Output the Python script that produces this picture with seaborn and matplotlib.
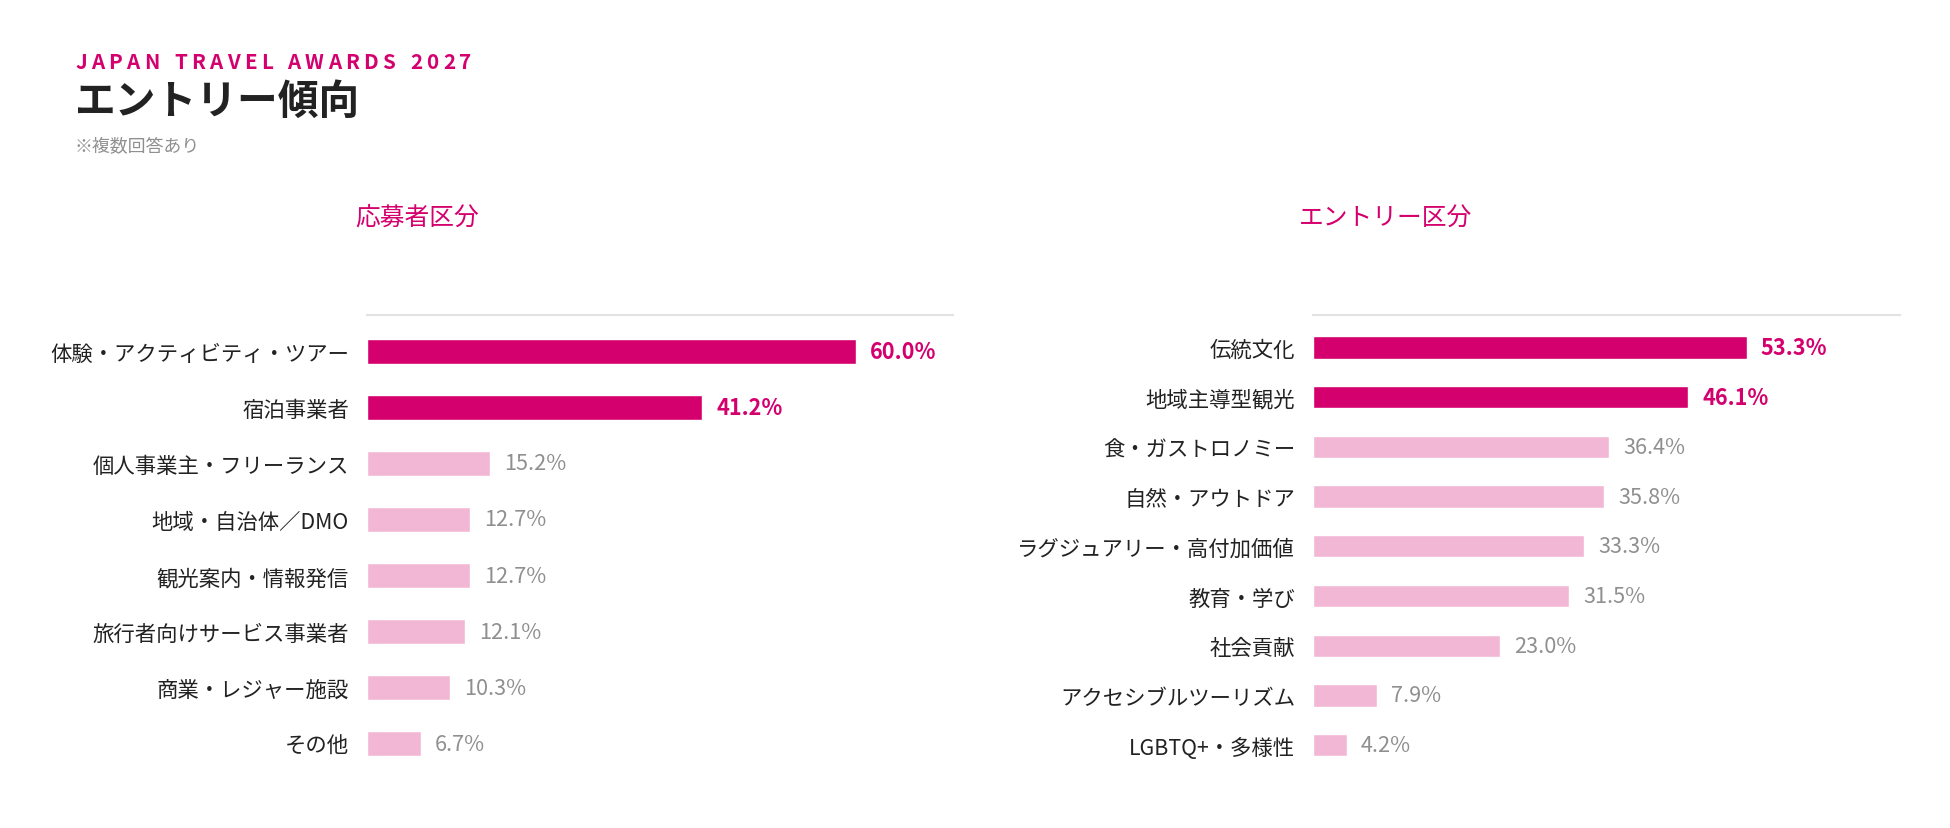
import matplotlib
matplotlib.use("Agg")
import matplotlib.pyplot as plt
import seaborn as sns
import pandas as pd

# data
applicant_cats = ["体験・アクティビティ・ツアー", "宿泊事業者", "個人事業主・フリーランス",
                  "地域・自治体／DMO", "観光案内・情報発信", "旅行者向けサービス事業者",
                  "商業・レジャー施設", "その他"]
applicant_vals = [60.0, 41.2, 15.2, 12.7, 12.7, 12.1, 10.3, 6.7]

entry_cats = ["伝統文化", "地域主導型観光", "食・ガストロノミー", "自然・アウトドア",
              "ラグジュアリー・高付加価値", "教育・学び", "社会貢献",
              "アクセシブルツーリズム", "LGBTQ+・多様性"]
entry_vals = [53.3, 46.1, 36.4, 35.8, 33.3, 31.5, 23.0, 7.9, 4.2]

header = "JAPAN TRAVEL AWARDS 2027"
title = "エントリー傾向"
note = "※複数回答あり"
panel_titles = ["応募者区分", "エントリー区分"]

DARK = "#d4006e"
LIGHT = "#f3b7d6"
GREY = "#8f8f8f"
INK = "#222222"

sns.set_style("white")
plt.rcParams["font.family"] = ["Noto Sans CJK JP", "DejaVu Sans"]

W, H = 1950, 829
fig = plt.figure(figsize=(W / 100, H / 100), dpi=100)
renderer = fig.canvas.get_renderer()

# header with letter spacing, drawn char by char
x = 75
for ch in header:
    t = fig.text(x / W, 0.925, ch, fontsize=14.8, fontweight="bold", color=DARK,
                 va="center", ha="left")
    w = t.get_window_extent(renderer).width if ch != " " else 6
    x += w + 4.3

fig.text(75 / W, 0.877, title, fontsize=29.3, fontweight="bold", color=INK, va="center")
fig.text(75 / W, 0.824, note, fontsize=12.9, color=GREY, va="center")

# (cats, vals, axes left px, axes bottom px, axes height px, title x px)
panels = [(applicant_cats, applicant_vals, 366.5, 48, 465, 417),
          (entry_cats, entry_vals, 1312.5, 50.5, 462.5, 1386)]
for i, (cats, vals, left, bottom, height, tx) in enumerate(panels):
    ax = fig.add_axes([left / W, bottom / H, 587 / W, height / H])
    df = pd.DataFrame({"cat": cats, "val": vals,
                       "grp": ["top" if j < 2 else "other" for j in range(len(cats))]})
    sns.barplot(data=df, x="val", y="cat", hue="grp", palette={"top": DARK, "other": LIGHT},
                dodge=False, legend=False, width=0.45, ax=ax, saturation=1)
    ax.set_xlim(0, 72)
    ax.set_ylim(len(cats) - 0.35, -0.65)
    ax.set_xlabel("")
    ax.set_ylabel("")
    ax.set_xticks([])
    ax.tick_params(axis="y", length=0, pad=12.6, labelsize=15.4, labelcolor=INK)
    for s in ["left", "right", "bottom"]:
        ax.spines[s].set_visible(False)
    ax.spines["top"].set_color("#e2e2e2")
    ax.spines["top"].set_linewidth(1.5)
    for cont in ax.containers:
        is_top = cont.patches[0].get_facecolor()[:3] == matplotlib.colors.to_rgb(DARK)
        ax.bar_label(cont, fmt="%.1f%%", padding=10, fontsize=15.6,
                     color=DARK if is_top else GREY,
                     fontweight="bold" if is_top else "normal")
    fig.text(tx / W, 0.737, panel_titles[i], fontsize=17.8, color=DARK, ha="center", va="center")

fig.savefig("out.png", dpi=100, facecolor="white")
